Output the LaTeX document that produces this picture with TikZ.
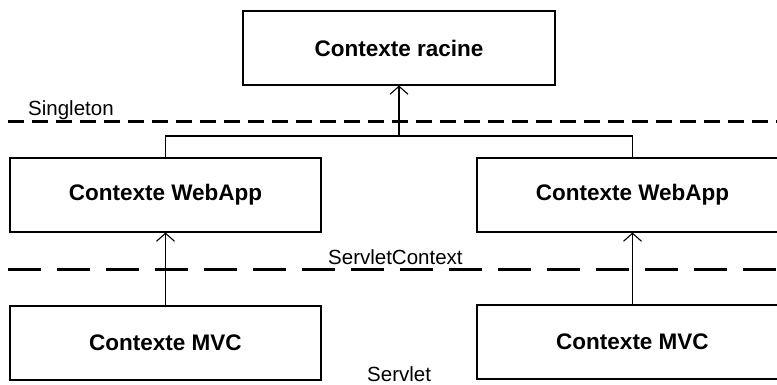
\documentclass[tikz,border=0pt]{standalone}
\usepackage{fontspec}
\setmainfont{Liberation Sans}
\usetikzlibrary{arrows.meta}
\begin{document}
\begin{tikzpicture}[x=1pt,y=-1pt,
  ctxbox/.style={draw, line width=1.1pt, minimum width=311pt, minimum height=74pt,
    inner sep=0pt, font=\fontsize{22.5}{26}\selectfont\bfseries},
  link/.style={line width=1.1pt},
  uplink/.style={line width=1.1pt, -{Straight Barb[length=8pt,width=18pt,line width=1.1pt]}},
  bound/.style={line width=3pt},
  shortdash/.style={dash pattern=on 16pt off 8pt},
  longdash/.style={dash pattern=on 33pt off 16pt},
  scopelabel/.style={anchor=base west, inner sep=0pt, font=\fontsize{20.5}{24}\selectfont}]
\useasboundingbox (0,0) rectangle (777,385);
\clip (0,0) rectangle (777,385);

% context boxes
\node[ctxbox, minimum width=312pt] (root) at (399,48) {Contexte racine};
\node[ctxbox] (wa1)  at (165.5,195) {Contexte WebApp};
\node[ctxbox] (wa2)  at (632.5,195) {Contexte WebApp};
\node[ctxbox] (mvc1) at (165.5,343) {Contexte MVC};
\node[ctxbox] (mvc2) at (632.5,342) {Contexte MVC};

% scope boundaries
\coordinate (sgA) at (8,122);
\coordinate (sgB) at (790,122);
\coordinate (scA) at (8,269);
\coordinate (scB) at (790,269);
\draw[bound, shortdash] (sgA) -- (sgB);
\draw[bound, longdash] (scA) -- (scB);

\node[scopelabel] (lsg) at (28,115.5) {Singleton};
\node[scopelabel] (lsc) at (328,264) {ServletContext};
\node[scopelabel] (lsv) at (367,381) {Servlet};

% parent links
\coordinate (j) at (root.south |- 0,136);
\draw[link] (wa1.north) |- (j) -| (wa2.north);
\draw[uplink] (j) -- (root.south);
\draw[uplink] (mvc1.north) -- (wa1.south);
\draw[uplink] (mvc2.north) -- (wa2.south);
\end{tikzpicture}
\end{document}
